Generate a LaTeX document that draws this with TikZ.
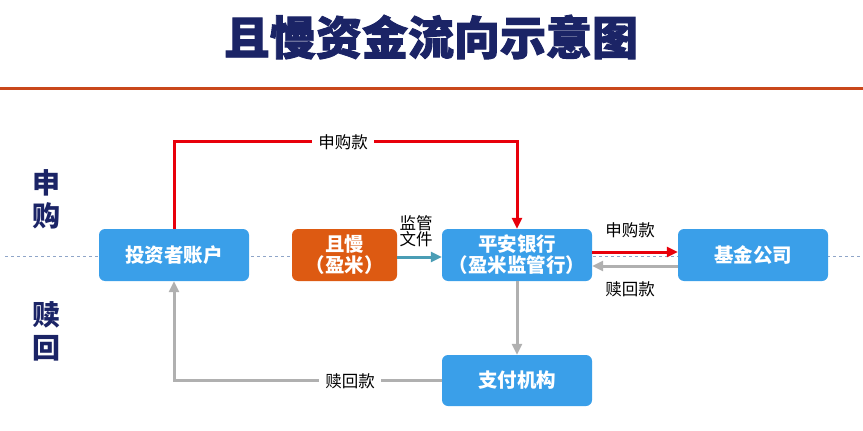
\documentclass[tikz,border=0pt]{standalone}
\usepackage{fontspec}
\setmainfont{Noto Sans CJK SC}
\newfontfamily\titlefont{Noto Sans CJK SC}[BoldFeatures={FakeBold=2}]
\usetikzlibrary{arrows.meta}
\definecolor{boxblue}{HTML}{3A9FE9}
\definecolor{boxorange}{HTML}{DD5A12}
\definecolor{arrred}{HTML}{E8000B}
\definecolor{arrgray}{HTML}{B0B0B0}
\definecolor{arrteal}{HTML}{4A9DB5}
\definecolor{navy}{HTML}{1B2466}
\definecolor{rule}{HTML}{C9471B}
\definecolor{dashc}{HTML}{8FA5C8}
\tikzset{
  flowbox/.style={rounded corners=6pt, fill=boxblue, text=white, font=\bfseries\fontsize{19.5}{21}\selectfont, minimum width=150pt, minimum height=52pt, inner sep=0pt, align=center},
  orangebox/.style={flowbox, fill=boxorange, minimum width=105pt},
  redline/.style={draw=arrred, line width=3pt},
  grayline/.style={draw=arrgray, line width=3pt},
  tealline/.style={draw=arrteal, line width=3pt},
  tip/.style={-{Triangle[length=11pt,width=10pt]}},
  lbl/.style={font=\fontsize{16.5}{19}\selectfont, text=black, inner sep=1pt},
  gaplbl/.style={lbl, fill=white, inner xsep=6pt},
  side/.style={font=\bfseries\fontsize{28}{30}\selectfont, text=navy},
}
\begin{document}
\begin{tikzpicture}[x=1pt,y=-1pt]
\useasboundingbox (0,0) rectangle (863,431);
% title
\node[font=\titlefont\bfseries\fontsize{46}{48}\selectfont, text=navy] (title) at (431,37) {且慢资金流向示意图};
\draw[rule, line width=3pt] (0,88) -- (863,88);
% dashed divider
\draw[dashc, dashed, line width=0.8pt] (5,256) -- (863,256);
% side labels
\node[side] (s1) at (46,183) {申};
\node[side] (s2) at (46,216) {购};
\node[side] (s3) at (46,315) {赎};
\node[side] (s4) at (46,348) {回};
% boxes
\node[flowbox] (inv) at (174,255) {投资者账户};
\node[orangebox] (qm) at (344.5,255) {且慢\\（盈米）};
\node[flowbox] (pa) at (517,255) {平安银行\\（盈米监管行）};
\node[flowbox] (fund) at (753,255) {基金公司};
\node[flowbox, minimum height=51pt] (pay) at (517,380.5) {支付机构};
% red subscription path
\coordinate (r1) at (inv.north |- 0,141);
\coordinate (r2) at (pa.north |- 0,141);
\draw[redline, tip] (inv.north) -- (r1) -- (r2) -- (pa.north);
\node[gaplbl] (l1) at (343,142) {申购款};
% teal
\draw[tealline, tip] (qm.east |- 0,257) -- (pa.west |- 0,257);
\node[lbl, align=center] (l2) at (416,231) {监管\\[-3pt]文件};
% red to fund
\draw[redline, tip] (pa.east |- 0,252) -- (fund.west |- 0,252);
\draw[grayline, tip] (fund.west |- 0,266) -- (pa.east |- 0,266);
\node[lbl] (l3) at (630,230) {申购款};
\node[lbl] (l4) at (630,289) {赎回款};
% gray down
\draw[grayline, tip] (pa.south) -- (pay.north);
% gray return path
\coordinate (g1) at (inv.south |- pay.west);
\draw[grayline, tip] (pay.west) -- (g1) -- (inv.south);
\node[gaplbl] (l5) at (350,381) {赎回款};
\end{tikzpicture}
\end{document}
